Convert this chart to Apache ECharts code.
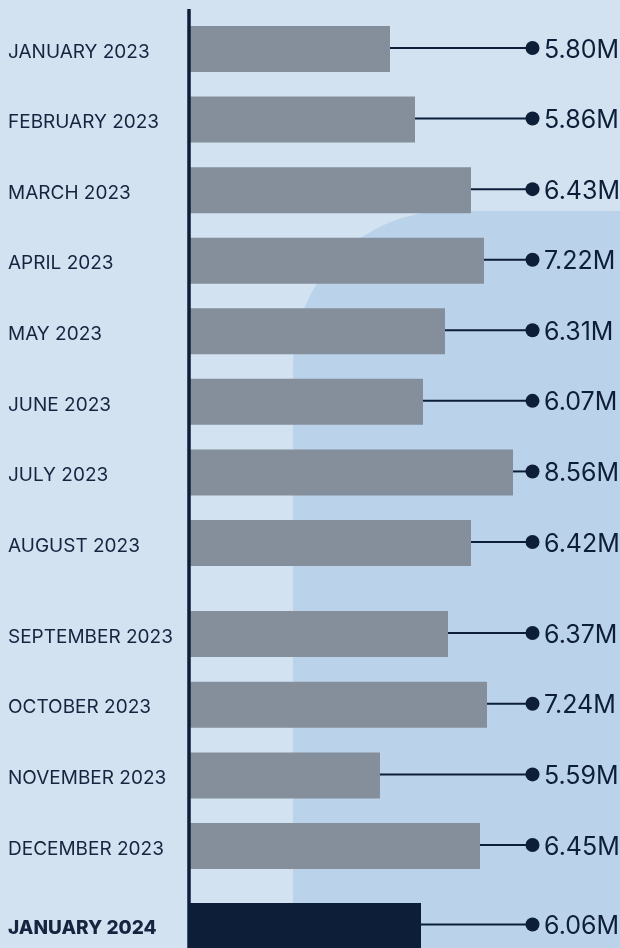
<!DOCTYPE html>
<html lang="en">
<head>
  <meta charset="UTF-8">
  <title>Monthly totals, January 2023 to January 2024</title>
  <script src="https://cdn.jsdelivr.net/npm/echarts@6/dist/echarts.min.js"></script>
  <style>
    html, body {
      margin: 0;
      padding: 0;
      background: #d2e2f1;
    }
    #main {
      width: 620px;
      height: 948px;
    }
  </style>
</head>
<body>
  <div id="main"></div>

  <script>
    const months = [
      'JANUARY 2023', 'FEBRUARY 2023', 'MARCH 2023', 'APRIL 2023',
      'MAY 2023', 'JUNE 2023', 'JULY 2023', 'AUGUST 2023',
      'SEPTEMBER 2023', 'OCTOBER 2023', 'NOVEMBER 2023', 'DECEMBER 2023',
      'JANUARY 2024'
    ];
    const valueLabels = [
      '5.80M', '5.86M', '6.43M', '7.22M', '6.31M', '6.07M', '8.56M',
      '6.42M', '6.37M', '7.24M', '5.59M', '6.45M', '6.06M'
    ];
    // bar extent as drawn in the picture (bars are not to scale with the labels)
    const barLength = [201, 226, 282, 295, 256, 234, 324, 282, 259, 298, 191, 291, 232];

    const NAVY = '#0d1e38';
    const GRAY = '#858e9b';
    const TEXT = '#16243f';

    // the months are drawn in three blocks with a little extra space between them
    const blocks = [
      { from: 0, to: 8, top: 13.7, height: 564.6 },
      { from: 8, to: 12, top: 598.7, height: 282.7 },
      { from: 12, to: 13, top: 903, height: 45 }
    ];

    const chart = echarts.init(document.getElementById('main'));

    const grid = [], xAxis = [], yAxis = [], series = [];
    blocks.forEach((b, i) => {
      const last = i === blocks.length - 1;
      grid.push({ left: 189, right: 0, top: b.top, height: b.height });
      xAxis.push({ type: 'value', gridIndex: i, min: 0, max: 431, show: false });
      yAxis.push({
        type: 'category',
        gridIndex: i,
        inverse: true,
        data: months.slice(b.from, b.to),
        axisLine: { show: false },
        axisTick: { show: false },
        splitLine: { show: false },
        axisLabel: {
          align: 'left',
          margin: 181,
          formatter: v => '{m|' + v + '}',
          rich: {
            m: {
              fontFamily: 'Inter',
              fontSize: 19,
              fontWeight: last ? 800 : 'normal',
              color: TEXT,
              padding: [6, 0, 0, 0]
            }
          }
        }
      });
      series.push({
        type: 'bar',
        xAxisIndex: i,
        yAxisIndex: i,
        barWidth: 46,
        silent: true,
        itemStyle: { color: last ? NAVY : GRAY },
        data: barLength.slice(b.from, b.to)
      });
      const labels = valueLabels.slice(b.from, b.to);
      series.push({
        type: 'custom',
        xAxisIndex: i,
        yAxisIndex: i,
        silent: true,
        z: 5,
        data: barLength.slice(b.from, b.to).map((v, k) => [v, k]),
        renderItem: function (params, api) {
          const end = api.coord([api.value(0), api.value(1)]);
          const y = end[1] - 1;
          const dotX = 532.5;
          return {
            type: 'group',
            children: [
              {
                type: 'line',
                shape: { x1: end[0], y1: y, x2: dotX, y2: y },
                style: { stroke: NAVY, lineWidth: 2 }
              },
              {
                type: 'circle',
                shape: { cx: dotX, cy: y, r: 7 },
                style: { fill: NAVY }
              },
              {
                type: 'text',
                style: {
                  text: labels[params.dataIndex],
                  x: 544,
                  y: end[1] + 1,
                  fill: NAVY,
                  fontFamily: 'Inter',
                  fontSize: 25,
                  align: 'left',
                  verticalAlign: 'middle'
                }
              }
            ]
          };
        }
      });
    });

    chart.setOption({
      backgroundColor: '#d2e2f1',
      animation: false,
      grid: grid,
      xAxis: xAxis,
      yAxis: yAxis,
      series: series,
      graphic: [
        {
          // darker rounded panel behind the lower right part
          type: 'rect',
          z: -10,
          silent: true,
          shape: { x: 293, y: 211, width: 400, height: 800, r: [155, 0, 0, 0] },
          style: { fill: '#bbd3ea' }
        },
        {
          type: 'line',
          z: 100,
          silent: true,
          shape: { x1: 189, y1: 9, x2: 189, y2: 948 },
          style: { stroke: NAVY, lineWidth: 3.5 }
        }
      ]
    });
  </script>
</body>
</html>
